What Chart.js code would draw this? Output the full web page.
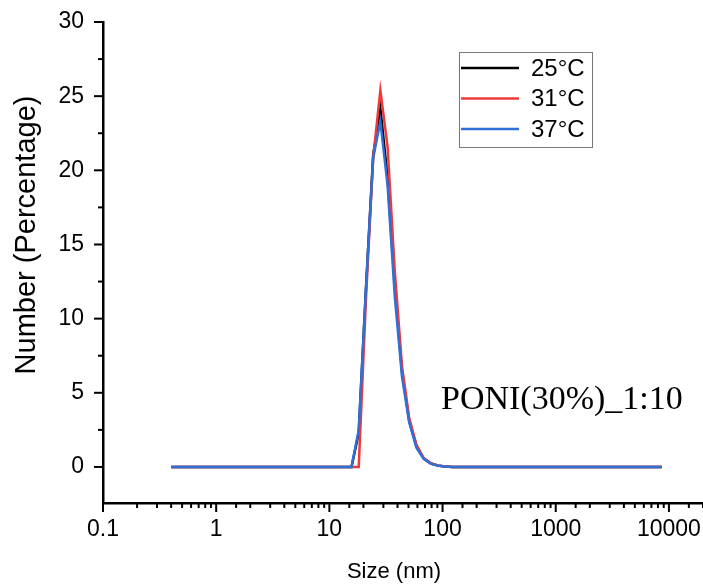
<!DOCTYPE html>
<html>
<head>
<meta charset="utf-8">
<script src="https://cdn.jsdelivr.net/npm/chart.js@4.4.0/dist/chart.umd.min.js"></script>
<style>
  html, body { margin: 0; padding: 0; background: #fff; }
  #wrap { width: 703px; height: 585px; }
</style>
</head>
<body>
<div id="wrap"><canvas id="dls-chart" width="703" height="585"></canvas></div>
<script>
// size bins (nm)
const sizes = [0.4, 0.4632, 0.5365, 0.6213, 0.7195, 0.8332, 0.9649, 1.117, 1.294, 1.499,
  1.736, 2.01, 2.328, 2.696, 3.122, 3.615, 4.187, 4.849, 5.615, 6.503,
  7.531, 8.721, 10.1, 11.7, 13.54, 15.69, 18.17, 21.04, 24.36, 28.21,
  32.67, 37.84, 43.82, 50.75, 58.77, 68.06, 78.82, 91.28, 105.7, 122.4,
  141.8, 164.2, 190.1, 220.2, 255.0, 295.3, 342.0, 396.1, 458.7, 531.2,
  615.1, 712.4, 825.0, 955.4, 1106, 1281, 1484, 1718, 1990, 2305,
  2669, 3091, 3580, 4145, 4801, 5560, 6439, 7456, 8635];

const temps = ['25°C', '31°C', '37°C'];
const colors = ['#000000', '#ee3a3a', '#2f6fd6'];

// Number (%) per bin
const num25 = [0, 0, 0, 0, 0, 0, 0, 0, 0, 0,
  0, 0, 0, 0, 0, 0, 0, 0, 0, 0,
  0, 0, 0, 0, 0, 0, 2.3, 12.0, 21.0, 24.2,
  19.5, 12.3, 6.4, 3.1, 1.4, 0.58, 0.23, 0.09, 0.03, 0,
  0, 0, 0, 0, 0, 0, 0, 0, 0, 0,
  0, 0, 0, 0, 0, 0, 0, 0, 0, 0,
  0, 0, 0, 0, 0, 0, 0, 0, 0];
const num31 = [0, 0, 0, 0, 0, 0, 0, 0, 0, 0,
  0, 0, 0, 0, 0, 0, 0, 0, 0, 0,
  0, 0, 0, 0, 0, 0, 0, 11.3, 20.8, 25.4,
  21.6, 13.2, 6.8, 3.3, 1.5, 0.6, 0.25, 0.1, 0.03, 0,
  0, 0, 0, 0, 0, 0, 0, 0, 0, 0,
  0, 0, 0, 0, 0, 0, 0, 0, 0, 0,
  0, 0, 0, 0, 0, 0, 0, 0, 0];
const num37 = [0, 0, 0, 0, 0, 0, 0, 0, 0, 0,
  0, 0, 0, 0, 0, 0, 0, 0, 0, 0,
  0, 0, 0, 0, 0, 0, 2.5, 12.0, 20.8, 23.3,
  19.0, 11.5, 6.1, 3.0, 1.3, 0.55, 0.22, 0.08, 0.03, 0,
  0, 0, 0, 0, 0, 0, 0, 0, 0, 0,
  0, 0, 0, 0, 0, 0, 0, 0, 0, 0,
  0, 0, 0, 0, 0, 0, 0, 0, 0];

const xTicksMajor = [0.1, 1, 10, 100, 1000, 10000];
const yTicksMajor = [0, 5, 10, 15, 20, 25, 30];
const sampleLabel = 'PONI(30%)_1:10';
const yTitle = 'Number (Percentage)';
const xTitle = 'Size (nm)';

const series = [num25, num31, num37];
const sans = '"Liberation Sans", Arial, sans-serif';

function toPoints(vals) {
  return sizes.map((s, i) => ({ x: s, y: vals[i] }));
}

function isMajorX(v) {
  return xTicksMajor.some(m => Math.abs(m - v) / m < 1e-6);
}

// axis ticks (outward, major + minor), axis titles, legend box and sample label
const decorPlugin = {
  id: 'decor',
  afterDraw(chart) {
    const c = chart.ctx;
    const xs = chart.scales.x, ys = chart.scales.y;
    const area = chart.chartArea;
    c.save();
    c.strokeStyle = '#000';
    c.lineWidth = 2;
    // x ticks
    xs.ticks.forEach(t => {
      const px = xs.getPixelForValue(t.value);
      if (px < area.left - 1 || px > area.right + 1) return;
      const len = isMajorX(t.value) ? 9 : 5;
      c.beginPath();
      c.moveTo(px, area.bottom);
      c.lineTo(px, area.bottom + len);
      c.stroke();
    });
    // y ticks
    ys.ticks.forEach(t => {
      const py = ys.getPixelForValue(t.value);
      const len = yTicksMajor.includes(t.value) ? 9 : 5;
      c.beginPath();
      c.moveTo(area.left, py);
      c.lineTo(area.left - len, py);
      c.stroke();
    });

    c.fillStyle = '#000';
    // y title
    c.save();
    c.translate(27, 235);
    c.rotate(-Math.PI / 2);
    c.font = '29px ' + sans;
    c.textAlign = 'center';
    c.textBaseline = 'middle';
    c.fillText(yTitle, 0, 0);
    c.restore();

    // x title
    c.font = '22px ' + sans;
    c.textAlign = 'center';
    c.textBaseline = 'middle';
    c.fillText(xTitle, 394, 572);

    // legend
    const lx = 459, ly = 52, lw = 133, lh = 95;
    c.lineWidth = 1;
    c.strokeStyle = '#777';
    c.strokeRect(lx + 0.5, ly + 0.5, lw, lh);
    c.font = '24px ' + sans;
    c.textBaseline = 'middle';
    c.textAlign = 'left';
    temps.forEach((lab, i) => {
      const yy = ly + 16 + i * 30.5;
      c.strokeStyle = colors[i];
      c.lineWidth = 2.5;
      c.beginPath();
      c.moveTo(lx + 2, yy);
      c.lineTo(lx + 60, yy);
      c.stroke();
      c.fillStyle = '#000';
      c.fillText(lab, lx + 72, yy + 1);
    });

    // sample label
    c.font = '34px "Liberation Serif", "Times New Roman", serif';
    c.textBaseline = 'alphabetic';
    c.fillStyle = '#000';
    c.fillText(sampleLabel, 441, 409);
    c.restore();
  }
};

new Chart(document.getElementById('dls-chart'), {
  type: 'line',
  data: {
    datasets: series.map((vals, i) => ({
      label: temps[i],
      data: toPoints(vals),
      borderColor: colors[i],
      backgroundColor: colors[i],
      borderWidth: 2.5,
      pointRadius: 0,
      tension: 0,
      order: 3 - i
    }))
  },
  options: {
    responsive: false,
    animation: false,
    layout: { padding: { top: 22, right: 0, left: 0, bottom: 0 } },
    plugins: {
      legend: { display: false },
      tooltip: { enabled: false }
    },
    scales: {
      x: {
        type: 'logarithmic',
        min: 0.1,
        max: 20000,
        grid: { display: false },
        border: { display: true, color: '#000', width: 2.5 },
        ticks: {
          autoSkip: false,
          maxRotation: 0,
          padding: 5,
          color: '#000',
          font: { family: sans, size: 23 },
          callback: (v) => isMajorX(v) ? String(v) : ''
        },
        afterFit: (s) => { s.height = 82; s.paddingLeft = 0; s.paddingRight = 0; }
      },
      y: {
        type: 'linear',
        min: -2.43,
        max: 30,
        grid: { display: false },
        border: { display: true, color: '#000', width: 2.5 },
        ticks: {
          stepSize: 2.5,
          includeBounds: false,
          padding: 11,
          color: '#000',
          font: { family: sans, size: 23 },
          callback: (v) => yTicksMajor.includes(v) ? String(v) : ''
        },
        afterFit: (s) => { s.width = 103; s.paddingTop = 0; s.paddingBottom = 0; }
      }
    }
  },
  plugins: [decorPlugin]
});
</script>
</body>
</html>
